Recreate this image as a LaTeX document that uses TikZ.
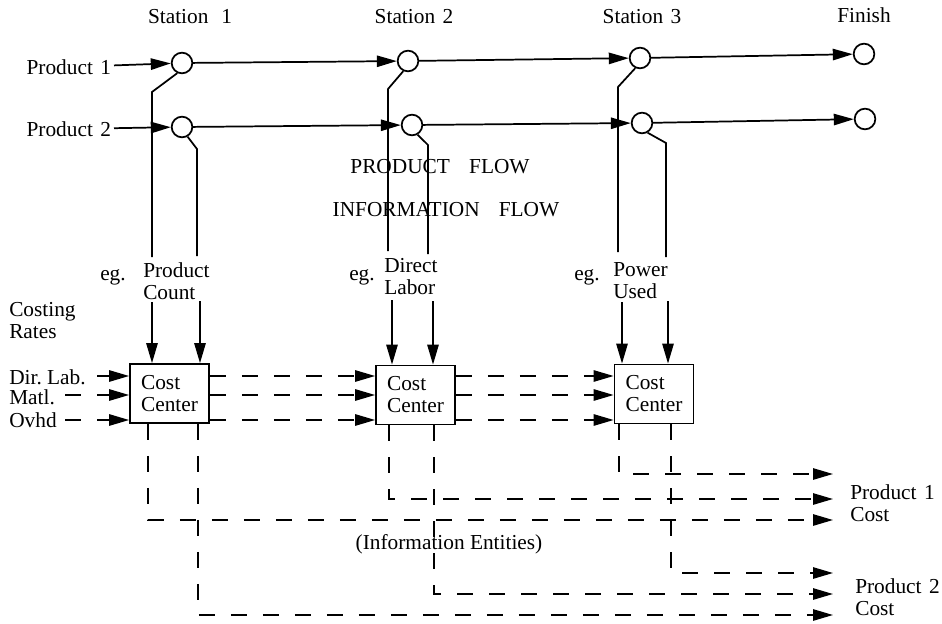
\documentclass[tikz,border=0pt]{standalone}
\usepackage{fontspec}
\setmainfont{Liberation Serif}
\usetikzlibrary{arrows.meta}
\newcommand{\wsp}[1]{\hspace{#1em}}
\begin{document}
\begin{tikzpicture}[x=0.75pt,y=-0.75pt,
  every node/.style={font=\fontsize{16}{16.5}\selectfont, inner sep=0pt},
  ln/.style={line width=1.3pt},
  arr/.style={ln,-{Triangle[length=15pt,width=8.5pt]}},
  dsh/.style={dash pattern=on 12pt off 12pt},
  stn/.style={circle,draw,line width=1.3pt,minimum size=15.5pt,inner sep=0pt},
  ccbox/.style={draw,line width=1.3pt,minimum width=59.25pt,minimum height=44.25pt,align=left},
  lbl/.style={align=left},
]
\useasboundingbox (0,0) rectangle (942,624);

% titles
\node (s1) at (190,17) {Station\wsp{0.6}1};
\node (s2) at (414,17) {Station\wsp{0.35}2};
\node (s3) at (642,17) {Station\wsp{0.35}3};
\node (fin) at (864,15) {Finish};

% stations
\node[stn] (c11) at (182,63) {};
\node[stn] (c12) at (408,61) {};
\node[stn] (c13) at (640,58) {};
\node[stn] (c14) at (864,54) {};
\node[stn] (c21) at (182,127) {};
\node[stn] (c22) at (412,125) {};
\node[stn] (c23) at (642,123) {};
\node[stn] (c24) at (865,119) {};

\node[anchor=east,inner xsep=2pt] (p1) at (114,67) {Product\wsp{0.35}1};
\node[anchor=east,inner xsep=2pt] (p2) at (114,129) {Product\wsp{0.35}2};

\draw[arr] (p1) -- (c11);
\draw[arr] (c11) -- (c12);
\draw[arr] (c12) -- (c13);
\draw[arr] (c13) -- (c14);
\draw[arr] (p2) -- (c21);
\draw[arr] (c21) -- (c22);
\draw[arr] (c22) -- (c23);
\draw[arr] (c23) -- (c24);

% flow texts
\node (pf) at (440,167) {PRODUCT\wsp{0.9}FLOW};
\node (inf) at (446,210) {INFORMATION\wsp{0.9}FLOW};

% information taps
\coordinate (k11) at (152,92);  \coordinate (e11) at (152,257);
\coordinate (k21) at (197,149); \coordinate (e21) at (197,256);
\coordinate (k12) at (388,89);  \coordinate (e12) at (388,251);
\coordinate (k22) at (428,145); \coordinate (e22) at (428,254);
\coordinate (k13) at (618,87);  \coordinate (e13) at (618,252);
\coordinate (k23) at (666,143); \coordinate (e23) at (666,257);
\draw[ln] (c11.245) -- (k11) -- (e11);
\draw[ln] (c21.-60) -- (k21) -- (e21);
\draw[ln] (c12.245) -- (k12) -- (e12);
\draw[ln] (c22.-60) -- (k22) -- (e22);
\draw[ln] (c13.245) -- (k13) -- (e13);
\draw[ln] (c23.-60) -- (k23) -- (e23);

% measure labels
\node[lbl,anchor=west] (t1) at (143,281) {Product\\Count};
\node[anchor=east] (eg1) at (126,277) {eg.};
\node[lbl,anchor=west] (t2) at (384,277) {Direct\\Labor};
\node[anchor=east] (eg2) at (375,277) {eg.};
\node[lbl,anchor=west] (t3) at (613,281) {Power\\Used};
\node[anchor=east] (eg3) at (600,277) {eg.};

% cost centers
\node[ccbox] (b1) at (169.5,393.5) {Cost\\Center};
\node[ccbox] (b2) at (415.5,395) {Cost\\Center};
\node[ccbox] (b3) at (654,394) {Cost\\Center};

% down arrows
\coordinate (d1a) at (152,302); \coordinate (d1b) at (200,301);
\coordinate (d2a) at (392,300); \coordinate (d2b) at (433,301);
\coordinate (d3a) at (622,302); \coordinate (d3b) at (668,301);
\draw[arr] (d1a) -- (b1.north -| d1a);
\draw[arr] (d1b) -- (b1.north -| d1b);
\draw[arr] (d2a) -- (b2.north -| d2a);
\draw[arr] (d2b) -- (b2.north -| d2b);
\draw[arr] (d3a) -- (b3.north -| d3a);
\draw[arr] (d3b) -- (b3.north -| d3b);

% costing rates
\node[lbl,anchor=west] (cr) at (9,321) {Costing\\Rates};
\node[anchor=west] (dl) at (9,377) {Dir.\ Lab.};
\node[anchor=west] (ma) at (9,397) {Matl.};
\node[anchor=west] (ov) at (9,420) {Ovhd};
\coordinate (r1) at (0,376); \coordinate (r2) at (0,395); \coordinate (r3) at (0,420);
\coordinate (xa) at (97,0); \coordinate (xb) at (65,0);
\draw[arr] (xa |- r1) -- (b1.west |- r1);
\draw[arr,dsh] (xb |- r2) -- (b1.west |- r2);
\draw[arr,dsh] (xb |- r3) -- (b1.west |- r3);

\draw[arr,dsh] (b1.east |- r1) -- (b2.west |- r1);
\draw[arr,dsh] (b1.east |- r2) -- (b2.west |- r2);
\draw[arr,dsh] (b1.east |- r3) -- (b2.west |- r3);
\draw[arr,dsh] (b2.east |- r1) -- (b3.west |- r1);
\draw[arr,dsh] (b2.east |- r2) -- (b3.west |- r2);
\draw[arr,dsh] (b2.east |- r3) -- (b3.west |- r3);

% outputs
\coordinate (o1) at (833,474); \coordinate (o2) at (833,499); \coordinate (o3) at (833,520);
\coordinate (o4) at (833,573); \coordinate (o5) at (833,594); \coordinate (o6) at (833,615);
\coordinate (x1a) at (148,0); \coordinate (x1b) at (198,0);
\coordinate (x2a) at (389,0); \coordinate (x2b) at (434,0);
\coordinate (x3a) at (619,0); \coordinate (x3b) at (671,0);
\draw[arr,dsh] (b3.south -| x3a) |- (o1);
\draw[arr,dsh] (b2.south -| x2a) |- (o2);
\draw[arr,dsh] (b1.south -| x1a) |- (o3);
\draw[arr,dsh] (b3.south -| x3b) |- (o4);
\draw[arr,dsh] (b2.south -| x2b) |- (o5);
\draw[arr,dsh] (b1.south -| x1b) |- (o6);

\node[lbl,anchor=west] (pc1) at (850,503) {Product\wsp{0.35}1\\Cost};
\node[lbl,anchor=west] (pc2) at (855,597) {Product\wsp{0.35}2\\Cost};
\node (ie) at (449,544) {(Information Entities)};
\end{tikzpicture}
\end{document}
